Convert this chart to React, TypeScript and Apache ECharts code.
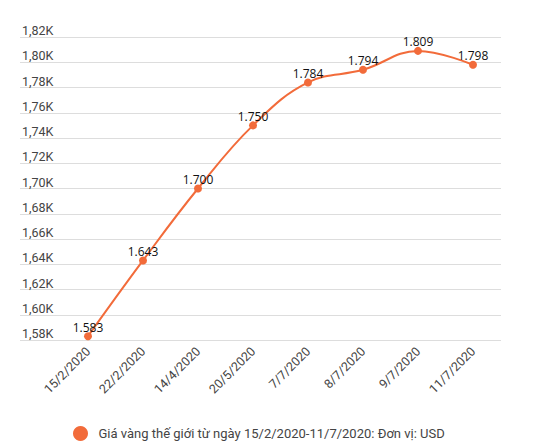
import React, { useEffect, useRef } from "react";
import * as echarts from "echarts";

const categories = ["15/2/2020", "22/2/2020", "14/4/2020", "20/5/2020", "7/7/2020", "8/7/2020", "9/7/2020", "11/7/2020"];
const prices = [1583, 1643, 1700, 1750, 1784, 1794, 1809, 1798];
const seriesName = "Giá vàng thế giới từ ngày 15/2/2020-11/7/2020: Đơn vị: USD";
const yMin = 1580;
const yMax = 1820;
const yStep = 20;

const ORANGE = "#F26B3A";

export default function App() {
  const ref = useRef<HTMLDivElement>(null);
  useEffect(() => {
    document.body.style.margin = "0";
    const chart = echarts.init(ref.current!, null, { renderer: "svg" });
    chart.setOption({
      animation: false,
      backgroundColor: "#ffffff",
      grid: [
        { left: 20, right: 34, top: 37, bottom: 108 },
        { left: 60.5, right: 34.5, top: 37, bottom: 108 },
      ],
      legend: {
        data: [seriesName],
        left: 73,
        top: 426,
        padding: 0,
        icon: "circle",
        itemWidth: 26,
        itemHeight: 15,
        textStyle: { color: "#444", fontFamily: "Roboto", fontSize: 13 },
      },
      xAxis: [
        { type: "category", gridIndex: 0, data: categories, show: false },
        {
          type: "category",
          gridIndex: 1,
          data: categories,
          boundaryGap: true,
          axisLine: { show: false },
          axisTick: { show: false },
          axisLabel: {
            rotate: 45,
            margin: 9,
            color: "#444",
            fontFamily: "Roboto",
            fontSize: 12.5,
            interval: 0,
          },
        },
      ],
      yAxis: [
        {
          type: "value",
          gridIndex: 0,
          min: yMin,
          max: yMax,
          interval: yStep,
          axisLine: { show: false },
          axisTick: { show: false },
          splitLine: { lineStyle: { color: "#dddddd", width: 1 } },
          axisLabel: {
            inside: true,
            margin: 2,
            verticalAlign: "bottom",
            color: "#444",
            fontFamily: "Roboto",
            fontSize: 12.5,
            formatter: (v: number) => (v / 1000).toFixed(2).replace(".", ",") + "K",
          },
        },
        {
          type: "value",
          gridIndex: 1,
          min: yMin,
          max: yMax,
          interval: yStep,
          show: false,
          splitLine: { show: false },
        },
      ],
      series: [
        {
          name: seriesName,
          type: "line",
          xAxisIndex: 1,
          yAxisIndex: 1,
          data: prices,
          smooth: 0.4,
          symbol: "circle",
          symbolSize: 8,
          itemStyle: { color: ORANGE },
          lineStyle: { color: ORANGE, width: 2 },
          label: {
            show: true,
            position: "top",
            distance: -1,
            color: "#111",
            fontFamily: "Open Sans",
            fontSize: 12,
            formatter: (p: any) => {
              const s = String(p.value);
              return s.slice(0, s.length - 3) + "." + s.slice(s.length - 3);
            },
          },
        },
      ],
    });
    return () => chart.dispose();
  }, []);
  return <div ref={ref} style={{ width: 535, height: 448 }} />;
}
